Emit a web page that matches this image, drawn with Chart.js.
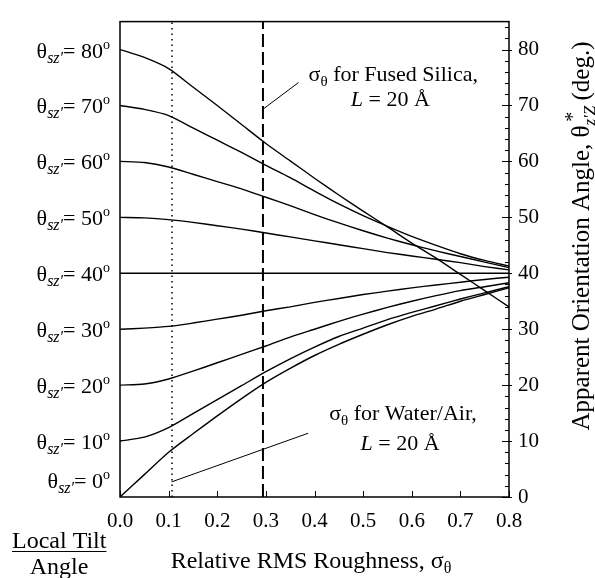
<!DOCTYPE html>
<html>
<head>
<meta charset="utf-8">
<script src="https://cdn.jsdelivr.net/npm/chart.js@4.4.1/dist/chart.umd.min.js"></script>
<style>
  html, body { margin: 0; padding: 0; background: #fff; }
  canvas { display: block; }
</style>
</head>
<body>
<canvas id="chart" width="595" height="578"></canvas>
<script>
// Relative RMS roughness (x) sampled for every curve
const sigma   = [0, 0.05, 0.1, 0.15, 0.2, 0.25, 0.3, 0.35, 0.4, 0.45, 0.5, 0.55, 0.6, 0.65, 0.7, 0.75, 0.8];

// Apparent orientation angle (deg) for each local tilt angle
const tilt80 = [80, 78.6, 76.6, 73.3, 70.0, 66.6, 63.2, 60.1, 57.0, 54.0, 51.1, 48.3, 45.4, 42.7, 39.8, 36.9, 34.0];
const tilt70 = [70, 69.3, 68.2, 66.0, 63.8, 61.6, 59.3, 57.1, 54.7, 52.4, 50.3, 48.4, 46.6, 45.0, 43.5, 42.3, 41.3];
const tilt60 = [60, 59.8, 59.0, 57.7, 56.4, 55.1, 53.6, 52.1, 50.5, 49.0, 47.6, 46.3, 45.1, 44.0, 43.0, 42.0, 41.0];
const tilt50 = [50, 49.9, 49.6, 49.1, 48.5, 47.9, 47.2, 46.5, 45.8, 45.1, 44.4, 43.7, 43.1, 42.5, 41.9, 41.2, 40.6];
const tilt40 = [40, 40, 40, 40, 40, 40, 40, 40, 40, 40, 40, 40, 40, 40, 40, 40, 40];
const tilt30 = [30, 30.2, 30.5, 31.1, 31.8, 32.5, 33.3, 34.0, 34.8, 35.5, 36.2, 36.8, 37.4, 37.9, 38.4, 38.9, 39.3];
const tilt20 = [20, 20.2, 21.1, 22.5, 24.0, 25.5, 27.0, 28.6, 30.0, 31.4, 32.7, 33.9, 35.0, 36.0, 36.9, 37.6, 38.3];
const tilt10 = [10, 10.7, 12.4, 14.9, 17.4, 19.9, 22.4, 24.7, 26.8, 28.7, 30.2, 31.7, 33.0, 34.2, 35.4, 36.5, 37.6];
const tilt0  = [0, 4.0, 8.0, 11.3, 14.5, 17.6, 20.5, 23.0, 25.3, 27.3, 29.1, 30.8, 32.3, 33.6, 35.0, 36.2, 37.4];

const tiltAngles = [0, 10, 20, 30, 40, 50, 60, 70, 80];
const tiltSeries = [tilt0, tilt10, tilt20, tilt30, tilt40, tilt50, tilt60, tilt70, tilt80];

const xTicks = [0, 0.1, 0.2, 0.3, 0.4, 0.5, 0.6, 0.7, 0.8];
const yTicks = [0, 10, 20, 30, 40, 50, 60, 70, 80];

// Roughness of water/air and fused silica interfaces (L = 20 Å)
const waterAirSigma = 0.107;
const fusedSilicaSigma = 0.294;

// Leader lines from the notes to their vertical markers (data units)
const silicaLeaderX = [0.367, 0.295];
const silicaLeaderY = [74.1, 69.4];
const waterLeaderX  = [0.106, 0.387];
const waterLeaderY  = [2.7, 11.4];

const SERIF = '"Liberation Serif", "Times New Roman", serif';

function pts(xs, ys) { return xs.map((x, i) => ({ x, y: ys[i] })); }

const datasets = tiltSeries.map((ys, k) => ({
  label: 'θ = ' + tiltAngles[k] + '°',
  data: pts(sigma, ys),
  borderColor: '#000',
  borderWidth: 1.4,
  pointRadius: 0,
  tension: 0.25,
  fill: false
}));

datasets.push({
  label: 'water/air',
  data: pts([waterAirSigma, waterAirSigma], [0, 85]),
  borderColor: '#000', borderWidth: 1.5, borderDash: [1.5, 4],
  pointRadius: 0, fill: false
});
datasets.push({
  label: 'fused silica',
  data: pts([fusedSilicaSigma, fusedSilicaSigma], [0, 85]),
  borderColor: '#000', borderWidth: 2, borderDash: [13, 5],
  pointRadius: 0, fill: false
});
datasets.push({
  label: 'silica note',
  data: pts(silicaLeaderX, silicaLeaderY),
  borderColor: '#000', borderWidth: 1, pointRadius: 0, fill: false
});
datasets.push({
  label: 'water note',
  data: pts(waterLeaderX, waterLeaderY),
  borderColor: '#000', borderWidth: 1, pointRadius: 0, fill: false
});

// Draws a sequence of text runs (sub/superscripts, italics) as one string
function drawRuns(ctx, runs, x, y, align) {
  let total = 0;
  runs.forEach(r => {
    ctx.font = (r.style || '') + ' ' + r.size + 'px ' + SERIF;
    r.w = ctx.measureText(r.t).width;
    total += r.w + (r.dx || 0);
  });
  let cx = align === 'right' ? x - total : align === 'center' ? x - total / 2 : x;
  runs.forEach(r => {
    ctx.font = (r.style || '') + ' ' + r.size + 'px ' + SERIF;
    cx += (r.dx || 0);
    ctx.fillText(r.t, cx, y + (r.dy || 0));
    cx += r.w;
  });
  return total;
}

const decor = {
  id: 'decor',
  afterDraw(chart) {
    const ctx = chart.ctx;
    const a = chart.chartArea;
    const xs = chart.scales.x, ys = chart.scales.y;
    ctx.save();
    ctx.strokeStyle = '#000';
    ctx.fillStyle = '#000';

    // plot frame
    ctx.lineWidth = 1.5;
    ctx.strokeRect(a.left, a.top, a.right - a.left, a.bottom - a.top);

    // inward ticks on the bottom axis
    ctx.lineWidth = 1;
    xTicks.forEach(v => {
      const px = Math.round(xs.getPixelForValue(v)) + 0.5;
      ctx.beginPath(); ctx.moveTo(px, a.bottom); ctx.lineTo(px, a.bottom - 6); ctx.stroke();
    });
    // major and minor ticks on the right axis
    for (let v = 0; v <= 84; v += 2) {
      const py = Math.round(ys.getPixelForValue(v)) + 0.5;
      const major = v % 10 === 0;
      ctx.beginPath();
      ctx.moveTo(a.right - (major ? 7 : 4), py);
      ctx.lineTo(a.right + (major ? 3 : 0), py);
      ctx.stroke();
    }

    ctx.textBaseline = 'alphabetic';
    // local tilt angle labels at the start of each curve
    tiltAngles.forEach(t => {
      let py = ys.getPixelForValue(t);
      py = Math.min(py, a.bottom - 17);
      drawRuns(ctx, [
        { t: 'θ', size: 22 },
        { t: 'sz′', size: 16, style: 'italic', dy: 5 },
        { t: '= ' + t, size: 22 },
        { t: 'o', size: 14, dy: -9 }
      ], a.left - 10, py + 8, 'right');
    });

    // notes
    drawRuns(ctx, [
      { t: 'σ', size: 22 }, { t: 'θ', size: 15, dy: 5 }, { t: ' for Fused Silica,', size: 22 }
    ], xs.getPixelForValue(0.562), ys.getPixelForValue(75.6) + 7, 'center');
    drawRuns(ctx, [
      { t: 'L', size: 22, style: 'italic' }, { t: ' = 20 Å', size: 22 }
    ], xs.getPixelForValue(0.556), ys.getPixelForValue(71.2) + 7, 'center');

    drawRuns(ctx, [
      { t: 'σ', size: 22 }, { t: 'θ', size: 15, dy: 5 }, { t: ' for Water/Air,', size: 22 }
    ], xs.getPixelForValue(0.582), ys.getPixelForValue(15.0) + 7, 'center');
    drawRuns(ctx, [
      { t: 'L', size: 22, style: 'italic' }, { t: ' = 20 Å', size: 22 }
    ], xs.getPixelForValue(0.576), ys.getPixelForValue(9.6) + 7, 'center');

    // bottom axis title
    drawRuns(ctx, [
      { t: 'Relative RMS Roughness, σ', size: 24 }, { t: 'θ', size: 16, dy: 5 }
    ], 311, 568, 'center');

    // "Local Tilt Angle" caption (underlined first line)
    ctx.font = '24px ' + SERIF;
    const w = ctx.measureText('Local Tilt').width;
    ctx.fillText('Local Tilt', 12, 548);
    ctx.lineWidth = 1.2;
    ctx.beginPath(); ctx.moveTo(12, 551.5); ctx.lineTo(12 + w, 551.5); ctx.stroke();
    const w2 = ctx.measureText('Angle').width;
    ctx.fillText('Angle', 59 - w2 / 2, 574);

    // right axis title, rotated
    ctx.translate(589, 236);
    ctx.rotate(-Math.PI / 2);
    drawRuns(ctx, [
      { t: 'Apparent Orientation Angle, θ', size: 25 },
      { t: 'z′Z', size: 17, style: 'italic', dy: 6 },
      { t: '*', size: 20, dy: -10, dx: -16 },
      { t: ' (deg.)', size: 25, dx: 5 }
    ], 0, 0, 'center');
    ctx.restore();
  }
};

new Chart(document.getElementById('chart'), {
  type: 'line',
  data: { datasets },
  plugins: [decor],
  options: {
    responsive: false,
    animation: false,
    devicePixelRatio: 1,
    layout: { padding: { left: 120, top: 16, right: 0, bottom: 0 } },
    plugins: { legend: { display: false }, tooltip: { enabled: false } },
    scales: {
      x: {
        type: 'linear', min: 0, max: 0.8,
        afterBuildTicks: s => { s.ticks = xTicks.map(v => ({ value: v })); },
        afterFit: s => { s.height = 81; },
        grid: { display: false, drawTicks: false },
        border: { display: false },
        ticks: {
          color: '#000', padding: 12,
          font: { family: SERIF, size: 21 },
          callback: v => v.toFixed(1),
          maxRotation: 0
        }
      },
      y: {
        type: 'linear', position: 'right', min: 0, max: 85,
        afterBuildTicks: s => { s.ticks = yTicks.map(v => ({ value: v })); },
        afterFit: s => { s.width = 86; },
        grid: { display: false, drawTicks: false },
        border: { display: false },
        ticks: {
          color: '#000', padding: 9,
          font: { family: SERIF, size: 21 }
        }
      }
    }
  }
});
</script>
</body>
</html>
